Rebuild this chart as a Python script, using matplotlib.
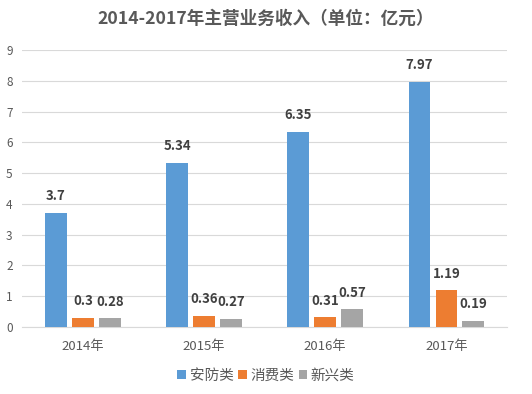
import numpy as np
import matplotlib.pyplot as plt

plt.rcParams['font.family'] = ['Noto Sans CJK SC', 'DejaVu Sans']

years = ['2014年', '2015年', '2016年', '2017年']
anfang = [3.7, 5.34, 6.35, 7.97]
xiaofei = [0.3, 0.36, 0.31, 1.19]
xinxing = [0.28, 0.27, 0.57, 0.19]
series = [('安防类', anfang, '#5B9BD5'),
          ('消费类', xiaofei, '#ED7D31'),
          ('新兴类', xinxing, '#A5A5A5')]

fig = plt.figure(figsize=(5.32, 3.94), dpi=100)
ax = fig.add_axes([0.042, 0.17, 0.911, 0.703])

x = np.arange(len(years))
w = 0.18
step = 0.222
for i, (name, vals, col) in enumerate(series):
    pos = x + (i - 1) * step
    ax.bar(pos, vals, width=w, color=col, label=name, zorder=3)
    for p, v in zip(pos, vals):
        ax.annotate(f'{v:g}', (p, v), xytext=(0, 7), textcoords='offset points',
                    ha='center', va='bottom', fontsize=9.5,
                    fontweight='bold', color='#404040')

ax.set_xlim(-0.5, 3.5)
ax.set_ylim(0, 9)
ax.set_yticks(range(10))
ax.set_xticks(x)
ax.set_xticklabels(years)
ax.grid(axis='y', color='#D9D9D9', linewidth=0.8, zorder=0)
for s in ['top', 'right', 'left']:
    ax.spines[s].set_visible(False)
ax.spines['bottom'].set_color('#D9D9D9')
ax.tick_params(axis='both', length=0, colors='#595959')
ax.tick_params(axis='x', pad=9, labelsize=9.5)
ax.tick_params(axis='y', pad=7, labelsize=8.5)

fig.suptitle('2014-2017年主营业务收入（单位：亿元）', y=0.975,
             fontsize=12.7, fontweight='bold', color='#595959')
fig.legend(loc='lower center', ncol=3, frameon=False, fontsize=10.5,
           bbox_to_anchor=(0.5, -0.005), handlelength=0.6, handleheight=0.6,
           columnspacing=0.3, handletextpad=0.25, labelcolor='#595959')

fig.savefig('out.png', dpi=100)
